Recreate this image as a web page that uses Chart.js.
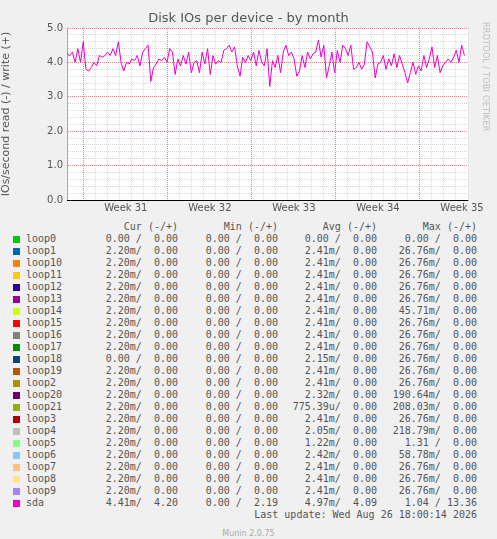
<!DOCTYPE html>
<html><head><meta charset="utf-8">
<script src="https://cdn.jsdelivr.net/npm/chart.js@4"></script>
<style>
body{margin:0;background:#f0f0f0;width:497px;height:539px;position:relative;overflow:hidden;font-family:"DejaVu Sans",sans-serif}
#c{position:absolute;left:0;top:0}
#title{position:absolute;top:10px;left:0;width:497px;text-align:center;font-size:13px;color:#555}
#rrd{position:absolute;left:481px;top:22px;writing-mode:vertical-rl;font-size:8px;color:#bbb;letter-spacing:0.3px}
#leg{position:absolute;left:0;top:221px;width:497px;font-family:"DejaVu Sans Mono",monospace;font-size:10px;color:#555;white-space:pre;line-height:12px}
.row{position:relative;height:12px;width:497px}
.sw{position:absolute;left:13px;top:3px;width:7px;height:7px}
.t{position:absolute;top:0}
#foot{position:absolute;top:529px;width:497px;text-align:center;font-size:8px;color:#aaa}
</style></head><body>
<canvas id="c" width="497" height="220"></canvas>
<div id="title">Disk IOs per device - by month</div>
<div id="rrd">RRDTOOL / TOBI OETIKER</div>
<div id="leg"></div>
<div id="foot">Munin 2.0.75</div>
<script>
const weekLabels = ['Week 31','Week 32','Week 33','Week 34','Week 35'];
const devices = ['loop0','loop1','loop10','loop11','loop12','loop13','loop14','loop15','loop16','loop17','loop18','loop19','loop2','loop20','loop21','loop3','loop4','loop5','loop6','loop7','loop8','loop9','sda'];
const colors = ['#00cc00','#0066b3','#ff8000','#ffcc00','#330099','#990099','#ccff00','#ff0000','#808080','#008f00','#00487d','#b35a00','#b38f00','#6b006b','#8fb300','#b30000','#bebebe','#80ff80','#80c9ff','#ffc080','#ffe680','#aa80ff','#ee00cc'];
const curCol = ['0.00 /  0.00','2.20m/  0.00','2.20m/  0.00','2.20m/  0.00','2.20m/  0.00','2.20m/  0.00','2.20m/  0.00','2.20m/  0.00','2.20m/  0.00','2.20m/  0.00','0.00 /  0.00','2.20m/  0.00','2.20m/  0.00','2.20m/  0.00','2.20m/  0.00','2.20m/  0.00','2.20m/  0.00','2.20m/  0.00','2.20m/  0.00','2.20m/  0.00','2.20m/  0.00','2.20m/  0.00','4.41m/  4.20'];
const minCol = ['0.00 /  0.00','0.00 /  0.00','0.00 /  0.00','0.00 /  0.00','0.00 /  0.00','0.00 /  0.00','0.00 /  0.00','0.00 /  0.00','0.00 /  0.00','0.00 /  0.00','0.00 /  0.00','0.00 /  0.00','0.00 /  0.00','0.00 /  0.00','0.00 /  0.00','0.00 /  0.00','0.00 /  0.00','0.00 /  0.00','0.00 /  0.00','0.00 /  0.00','0.00 /  0.00','0.00 /  0.00','0.00 /  2.19'];
const avgCol = ['0.00 /  0.00','2.41m/  0.00','2.41m/  0.00','2.41m/  0.00','2.41m/  0.00','2.41m/  0.00','2.41m/  0.00','2.41m/  0.00','2.41m/  0.00','2.41m/  0.00','2.15m/  0.00','2.41m/  0.00','2.41m/  0.00','2.32m/  0.00','775.39u/  0.00','2.41m/  0.00','2.05m/  0.00','1.22m/  0.00','2.42m/  0.00','2.41m/  0.00','2.41m/  0.00','2.41m/  0.00','4.97m/  4.09'];
const maxCol = ['0.00 /  0.00','26.76m/  0.00','26.76m/  0.00','26.76m/  0.00','26.76m/  0.00','26.76m/  0.00','45.71m/  0.00','26.76m/  0.00','26.76m/  0.00','26.76m/  0.00','26.76m/  0.00','26.76m/  0.00','26.76m/  0.00','190.64m/  0.00','208.03m/  0.00','26.76m/  0.00','218.79m/  0.00','1.31 /  0.00','58.78m/  0.00','26.76m/  0.00','26.76m/  0.00','26.76m/  0.00','1.04 / 13.36'];
const sdaWrite = [4.25,4.2,4.3,4.0,4.4,4.0,4.6,3.8,3.75,3.85,4.0,3.9,4.2,4.15,4.2,4.3,4.2,4.4,4.2,4.6,4.0,3.75,4.0,3.95,4.1,4.05,4.2,3.9,4.3,4.4,4.5,3.45,3.85,3.95,4.1,4.05,4.15,4.0,4.4,4.3,3.65,4.1,3.9,4.2,3.95,4.3,3.7,4.0,4.05,3.7,4.3,3.95,4.4,3.65,4.2,3.95,4.05,4.0,4.35,4.4,4.5,4.3,4.45,3.9,3.6,4.15,4.0,4.2,4.05,4.3,3.9,4.35,4.0,3.9,4.4,3.3,4.05,3.85,4.2,3.7,4.3,4.5,4.2,4.3,4.1,3.6,3.75,4.2,3.85,4.3,4.1,4.25,4.3,4.65,4.15,4.5,3.55,3.9,4.3,3.7,4.35,4.0,4.5,4.4,4.2,4.5,3.8,3.85,4.0,3.8,3.95,4.6,4.45,4.3,3.55,3.95,4.0,4.2,3.8,4.1,3.9,4.25,3.85,4.2,3.95,3.7,3.4,3.7,4.0,3.65,3.9,3.75,4.2,3.85,4.1,4.45,3.85,4.2,3.7,3.9,4.0,4.1,4.0,4.15,4.35,4.0,4.5,4.2];
const spanDays = 33.1, firstWeek = 1.4;

const pts = sdaWrite.map((v,i)=>({x:i*spanDays/(sdaWrite.length-1), y:v}));
const near = (a,b)=>Math.abs(a-b)<1e-6;
const MAJOR='rgba(235,120,120,0.9)', MINOR='#d8d8d8';

new Chart(document.getElementById('c'), {
  type:'line',
  data:{datasets:[{label:'sda',data:pts,borderColor:'#ee00cc',borderWidth:1,pointRadius:0,tension:0}]},
  options:{
    animation:false,responsive:false,
    layout:{padding:{top:28,right:29,left:0,bottom:0}},
    plugins:{legend:{display:false},tooltip:{enabled:false}},
    scales:{
      x:{type:'linear',min:0,max:33.4,
        afterFit:s=>{s.height=20;},
        afterBuildTicks:s=>{const t=[];for(let k=0;firstWeek+k*0.5<=33.4;k++)t.push({value:firstWeek+k*0.5});s.ticks=t;},
        ticks:{autoSkip:false,maxRotation:0,padding:2,font:{family:'DejaVu Sans',size:10},color:'#555',
          callback:v=>{const k=Math.round((v-firstWeek)*2);return (k%14===7)? weekLabels[(k-7)/14] : '';}},
        grid:{drawTicks:false,
          color:c=>{if(!c.tick)return 'rgba(0,0,0,0)';const k=Math.round((c.tick.value-firstWeek)*2);return k%14===0?MAJOR:(k%2===0?MINOR:'rgba(0,0,0,0)');}},
        border:{color:'#aaaaaa',dash:[1,1]}},
      y:{min:0,max:5,
        afterFit:s=>{s.width=67;},
        afterBuildTicks:s=>{const t=[];for(let k=0;k<=25;k++)t.push({value:k*0.2});s.ticks=t;},
        ticks:{autoSkip:false,padding:4,font:{family:'DejaVu Sans',size:10},color:'#555',
          callback:v=> near(v,Math.round(v)) ? v.toFixed(1) : ''},
        grid:{drawTicks:false,color:c=> (c.tick && near(c.tick.value,Math.round(c.tick.value))) ? MAJOR : MINOR},
        border:{color:'#aaaaaa',dash:[1,1]},
        title:{display:true,text:'IOs/second read (-) / write (+)',font:{family:'DejaVu Sans',size:11},color:'#555',padding:0}}
    }
  },
  plugins:[{id:'bg',beforeDraw(ch){const a=ch.chartArea,x=ch.ctx;x.save();x.fillStyle='#fff';x.fillRect(a.left,a.top,a.right-a.left,a.bottom-a.top);x.restore();},
    afterDraw(ch){const a=ch.chartArea,x=ch.ctx,y0=ch.scales.y.getPixelForValue(0);x.save();x.strokeStyle='#000';x.beginPath();x.moveTo(a.left,y0+0.5);x.lineTo(a.right,y0+0.5);x.stroke();x.restore();}}]
});

const leg=document.getElementById('leg');
const hdr=document.createElement('div');hdr.className='row';
[['Cur (-/+)',178],['Min (-/+)',278],['Avg (-/+)',377],['Max (-/+)',477]].forEach(([s,r])=>{const e=document.createElement('span');e.className='t';e.textContent=s;e.style.right=(497-r)+'px';hdr.appendChild(e);});
leg.appendChild(hdr);
devices.forEach((d,i)=>{
  const r=document.createElement('div');r.className='row';
  r.innerHTML='<span class="sw" style="background:'+colors[i]+'"></span><span class="t" style="left:26px">'+d+'</span>';
  [[curCol[i],178],[minCol[i],278],[avgCol[i],377],[maxCol[i],477]].forEach(([s,rr])=>{const e=document.createElement('span');e.className='t';e.textContent=s;e.style.right=(497-rr)+'px';r.appendChild(e);});
  leg.appendChild(r);
});
const lu=document.createElement('div');lu.className='row';
lu.innerHTML='<span class="t" style="right:20px">Last update: Wed Aug 26 18:00:14 2026</span>';
leg.appendChild(lu);
</script>
</body></html>
